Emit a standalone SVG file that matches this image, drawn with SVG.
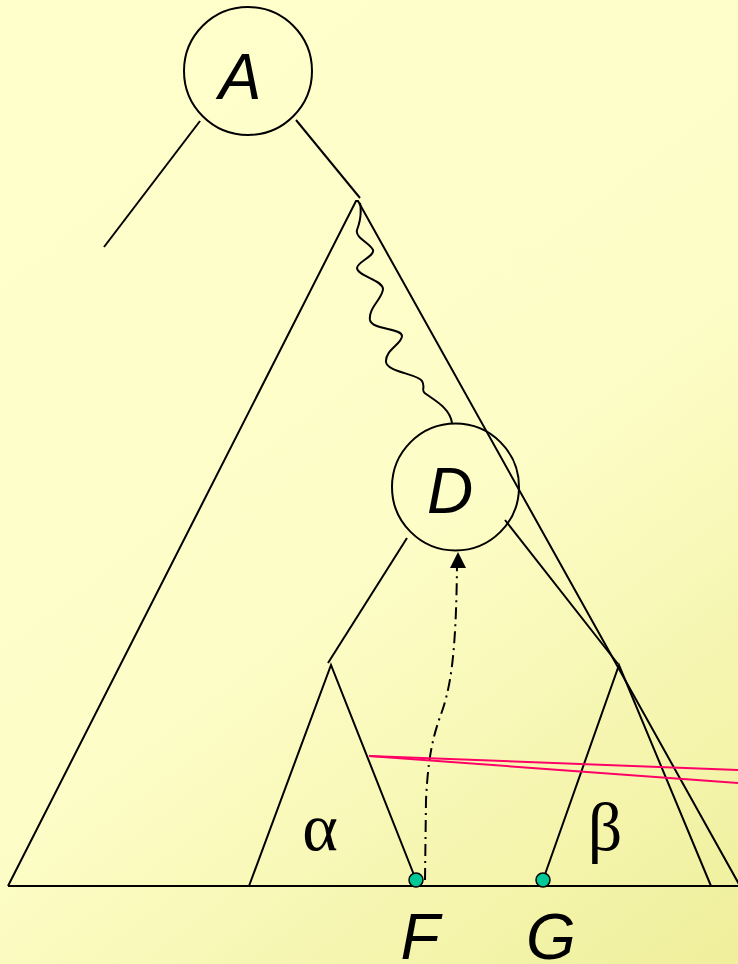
<svg xmlns="http://www.w3.org/2000/svg" width="738" height="964" viewBox="0 0 738 964">
<defs>
<linearGradient id="bg" x1="0" y1="0" x2="738" y2="964" gradientUnits="userSpaceOnUse">
<stop offset="0" stop-color="#FFFFCC"/>
<stop offset="0.55" stop-color="#FDFDC8"/>
<stop offset="1" stop-color="#EFEF9C"/>
</linearGradient>
<style>
.ln{stroke:#000;stroke-width:2;fill:none}
.nd{fill:none;stroke:#000;stroke-width:2}
.pk{stroke:#FF0066;stroke-width:2;fill:none}
.dot{fill:#00C896;stroke:#000;stroke-width:1.5}
.lbl{font-family:"Liberation Sans",Arial,sans-serif;font-style:italic;font-size:64px;fill:#000}
.grk{font-family:"Liberation Serif","Times New Roman",serif;font-size:68px;fill:#000}
</style>
</defs>
<rect width="738" height="964" fill="url(#bg)"/>
<g id="connectors">
<line class="ln" x1="200" y1="121" x2="104" y2="247"/>
<line class="ln" x1="296" y1="120" x2="360" y2="198"/>
<polyline class="ln" points="8,886 356,201 358,201 740,886"/>
<line class="ln" x1="8" y1="886" x2="738" y2="886"/>
<path class="ln" d="M360,203 C362,214 360,222 357,230 C355,238 370,243 373,250 C375,256 357,262 357,268 C357,276 383,280 383,289 C383,298 368,308 370,320 C372,330 402,328 402,336 C402,344 385,350 386,362 C387,372 418,374 422,381 C426,388 420,390 426,394 C434,400 450,408 452,423"/>
<line class="ln" x1="407" y1="538" x2="328" y2="663"/>
<polyline class="ln" points="249,886 331,665 416,880"/>
<line class="ln" x1="505" y1="520" x2="618" y2="664"/>
<polyline class="ln" points="543,880 619,665 711,886"/>
<path class="ln" stroke-dasharray="12,5,2,5" d="M425,880 L426,800 C428,760 432,740 440,717 C450,690 456,660 457,566"/>
<path d="M458,552 L450,568 L466,568 z" fill="#000"/>
<line class="pk" x1="369" y1="756" x2="738" y2="770"/>
<line class="pk" x1="369" y1="756" x2="738" y2="783"/>
</g>
<g id="A">
<circle class="nd" cx="248" cy="71" r="64"/>
<text class="lbl" x="240" y="99" text-anchor="middle">A</text>
</g>
<g id="D">
<circle class="nd" cx="455.5" cy="487" r="63.5"/>
<text class="lbl" x="450" y="513" text-anchor="middle">D</text>
</g>
<g id="F">
<circle class="dot" cx="416" cy="880" r="7"/>
<text class="lbl" x="420" y="959" text-anchor="middle">F</text>
</g>
<g id="G">
<circle class="dot" cx="543" cy="880" r="7"/>
<text class="lbl" x="551" y="959" text-anchor="middle">G</text>
</g>
<g id="alpha"><text class="grk" x="320" y="850" text-anchor="middle">α</text></g>
<g id="beta"><text class="grk" x="605" y="850" text-anchor="middle">β</text></g>
</svg>
